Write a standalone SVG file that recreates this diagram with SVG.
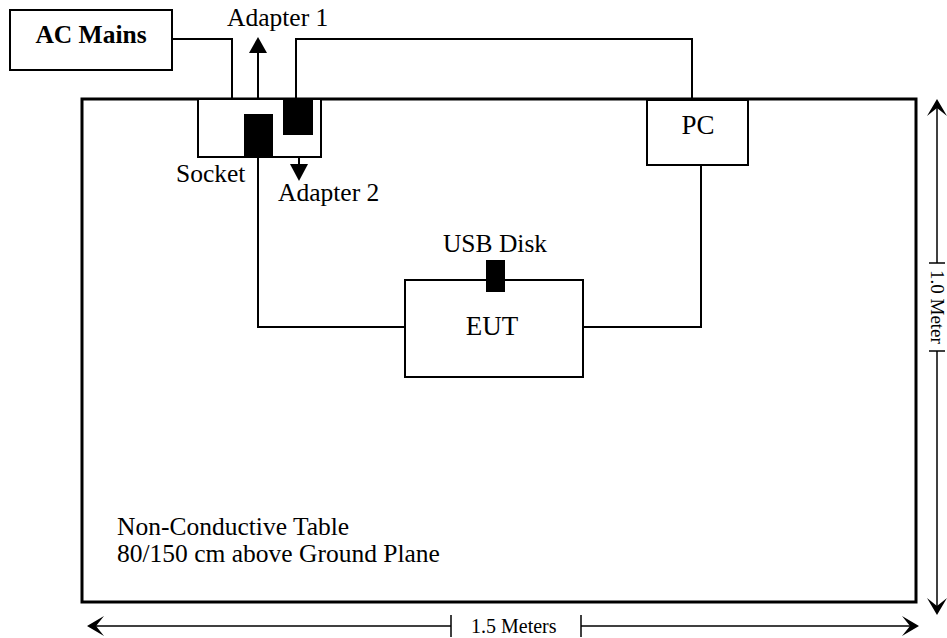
<svg xmlns="http://www.w3.org/2000/svg" width="947" height="638" viewBox="0 0 947 638">
<style>
  text { font-family: 'Liberation Serif', 'DejaVu Serif', serif; fill: #000; }
  .lbl { font-size: 25.5px; }
  .big { font-size: 27px; }
  .dim { font-size: 20px; }
  .box { fill: #fff; stroke: #000; stroke-width: 2; }
  .wire { fill: none; stroke: #000; stroke-width: 2; }
  .thin { fill: none; stroke: #000; stroke-width: 1.5; }
  .blk { fill: #000; }
</style>
<rect width="947" height="638" fill="#fff"/>

<g id="table">
  <rect x="82" y="99" width="834" height="503" fill="none" stroke="#000" stroke-width="3"/>
  <text class="lbl" x="117" y="535">Non-Conductive Table</text>
  <text class="lbl" x="117" y="562">80/150 cm above Ground Plane</text>
</g>

<g id="connectors">
  <polyline class="wire" points="172,39 232,39 232,99"/>
  <polyline class="wire" points="296,99 296,39 692,39 692,100"/>
  <polyline class="wire" points="258,157 258,327 405,327"/>
  <polyline class="wire" points="701,165 701,327 583,327"/>
  <line class="wire" x1="258" y1="114" x2="258" y2="52"/>
  <path d="M258,37 L249,53 L267,53 z" fill="#000"/>
  <line class="wire" x1="299" y1="135" x2="299" y2="166"/>
  <path d="M299,181 L290,164 L308,164 z" fill="#000"/>
</g>

<g id="ac-mains">
  <rect class="box" x="10" y="10" width="162" height="60"/>
  <text x="91" y="43" font-size="25.5" font-weight="bold" text-anchor="middle">AC Mains</text>
</g>

<g id="socket">
  <rect class="box" x="198" y="99" width="123" height="58"/>
  <text class="lbl" x="176" y="182">Socket</text>
</g>

<g id="adapter-1">
  <rect class="blk" x="244" y="114" width="29" height="43"/>
  <text class="lbl" x="227" y="26">Adapter 1</text>
</g>

<g id="adapter-2">
  <rect class="blk" x="283" y="99" width="30" height="36"/>
  <text class="lbl" x="278" y="201">Adapter 2</text>
</g>

<g id="pc">
  <rect class="box" x="647" y="100" width="101" height="65"/>
  <text class="big" x="698" y="134" text-anchor="middle">PC</text>
</g>

<g id="eut">
  <rect class="box" x="405" y="280" width="178" height="97"/>
  <text class="big" x="492" y="335" text-anchor="middle">EUT</text>
</g>

<g id="usb-disk">
  <rect class="blk" x="486" y="260" width="19" height="32"/>
  <text class="lbl" x="495" y="252" text-anchor="middle">USB Disk</text>
</g>

<g id="dim-width">
  <line class="thin" x1="90" y1="626" x2="451" y2="626"/>
  <line class="thin" x1="451" y1="615" x2="451" y2="637"/>
  <line class="thin" x1="581" y1="626" x2="916" y2="626"/>
  <line class="thin" x1="581" y1="615" x2="581" y2="637"/>
  <path d="M87,626 L104,616 L96,626 L104,636 z" fill="#000"/>
  <path d="M919,626 L902,616 L910,626 L902,636 z" fill="#000"/>
  <text class="dim" x="471" y="633">1.5 Meters</text>
</g>

<g id="dim-height">
  <line class="thin" x1="937" y1="102" x2="937" y2="263"/>
  <line class="thin" x1="929" y1="263" x2="945" y2="263"/>
  <line class="thin" x1="937" y1="351" x2="937" y2="612"/>
  <line class="thin" x1="929" y1="351" x2="945" y2="351"/>
  <path d="M937,99 L927,116 L937,108 L947,116 z" fill="#000"/>
  <path d="M937,615 L927,598 L937,606 L947,598 z" fill="#000"/>
  <text transform="translate(931,270) rotate(90)" font-size="19">1.0 Meter</text>
</g>
</svg>
